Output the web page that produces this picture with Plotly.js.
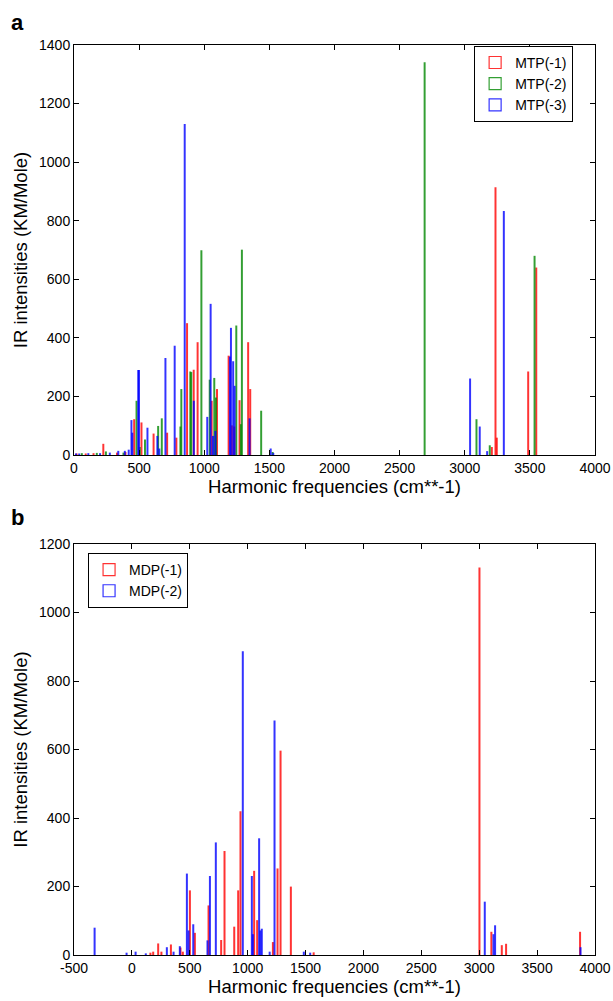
<!DOCTYPE html>
<html>
<head>
<meta charset="utf-8">
<script src="https://cdn.plot.ly/plotly-3.0.1.min.js"></script>
<style>html,body{margin:0;padding:0;background:#fff;}#chart{width:613px;height:1001px;}</style>
</head>
<body>
<div id="chart"></div>
<script>
// ---------- Panel a data ----------
const mtp1_freq = [20, 90, 150, 225, 330, 395, 462, 518, 611, 715, 786, 868, 919, 949, 1057, 1098, 1187, 1212, 1230, 1271, 1337, 1353, 3208, 3236, 3246, 3487, 3549];
const mtp1_int  = [3, 3, 4, 36, 6, 8, 120, 109, 71, 74, 57, 448, 289, 383, 183, 223, 337, 99, 95, 185, 383, 223, 25, 912, 57, 283, 638];

const mtp2_freq = [60, 175, 245, 380, 480, 505, 545, 646, 674, 817, 824, 893, 900, 978, 1042, 1077, 1090, 1246, 1281, 1289, 1437, 1525, 2692, 3090, 3192, 3536];
const mtp2_int  = [4, 5, 10, 6, 183, 25, 51, 97, 123, 95, 223, 283, 281, 697, 255, 261, 194, 440, 103, 699, 149, 8, 1339, 120, 31, 678];

const mtp3_freq = [15, 40, 110, 200, 275, 340, 390, 420, 441, 448, 493, 499, 564, 640, 655, 702, 773, 850, 920, 1023, 1049, 1067, 1085, 1197, 1205, 1222, 1233, 1348, 1510, 1530, 3041, 3115, 3172, 3300];
const mtp3_int  = [3, 3, 4, 4, 6, 12, 12, 16, 117, 74, 288, 288, 91, 63, 20, 329, 371, 1128, 183, 128, 514, 63, 80, 334, 432, 318, 234, 123, 20, 5, 259, 95, 11, 831];

// ---------- Panel b data ----------
const mdp1_freq = [160, 184, 227, 255, 337, 420, 440, 501, 544, 662, 771, 800, 884, 918, 938, 1056, 1082, 1218, 1258, 1284, 1373, 1570, 3002, 3105, 3195, 3232, 3871];
const mdp1_int  = [5, 8, 32, 8, 29, 20, 8, 187, 63, 143, 42, 302, 81, 187, 418, 244, 100, 36, 251, 595, 198, 6, 1130, 66, 27, 31, 66];

const mdp2_freq = [-322, -46, 32, 120, 302, 360, 414, 475, 490, 530, 653, 674, 725, 958, 1036, 1045, 1099, 1110, 1122, 1190, 1232, 1485, 1540, 3048, 3123, 3137, 3875];
const mdp2_int  = [78, 5, 8, 3, 21, 8, 24, 236, 70, 88, 41, 229, 327, 885, 229, 59, 339, 70, 75, 8, 683, 8, 5, 154, 59, 85, 21];

// ---------- Tick values ----------
const xTicksA = [0, 500, 1000, 1500, 2000, 2500, 3000, 3500, 4000];
const yTicksA = [0, 200, 400, 600, 800, 1000, 1200, 1400];
const xTicksB = [-500, 0, 500, 1000, 1500, 2000, 2500, 3000, 3500, 4000];
const yTicksB = [0, 200, 400, 600, 800, 1000, 1200];

function stick(x, y, name, color, xa, ya, leg, w) {
  return {
    type: 'bar', x: x, y: y, name: name, xaxis: xa, yaxis: ya, legend: leg,
    width: w,
    marker: {color: 'rgba(255,255,255,0)', line: {color: color, width: 1.2}},
    hoverinfo: 'x+y'
  };
}

const RED = 'rgba(255,0,0,0.8)';
const GREEN = 'rgba(0,135,0,0.8)';
const BLUE = 'rgba(0,0,255,0.8)';

const data = [
  stick(mtp1_freq, mtp1_int, 'MTP(-1)', RED, 'x', 'y', 'legend', 6),
  stick(mtp2_freq, mtp2_int, 'MTP(-2)', GREEN, 'x', 'y', 'legend', 6),
  stick(mtp3_freq, mtp3_int, 'MTP(-3)', BLUE, 'x', 'y', 'legend', 6),
  stick(mdp1_freq, mdp1_int, 'MDP(-1)', RED, 'x2', 'y2', 'legend2', 7),
  stick(mdp2_freq, mdp2_int, 'MDP(-2)', BLUE, 'x2', 'y2', 'legend2', 7)
];

const FONT = 'Liberation Sans, Arial, Helvetica, sans-serif';
const tickFont = {family: FONT, size: 14, color: '#000'};
const titleFont = {family: FONT, size: 18.5, color: '#000'};

function axis(range, ticks, title, domain, anchor, standoff) {
  return {
    range: range, tickvals: ticks, ticktext: ticks.map(String),
    domain: domain, anchor: anchor,
    ticks: 'inside', ticklen: 5, tickcolor: '#000', tickwidth: 1,
    showline: true, linecolor: '#000', linewidth: 1, mirror: 'ticks',
    showgrid: false, zeroline: false,
    tickfont: tickFont,
    title: {text: title, font: titleFont, standoff: standoff}
  };
}

const legendStyle = {
  font: {family: FONT, size: 14, color: '#000'},
  bgcolor: '#fff', bordercolor: '#000', borderwidth: 1,
  xanchor: 'left', yanchor: 'top', tracegroupgap: 0, itemwidth: 30
};

const layout = {
  width: 613, height: 1001,
  margin: {l: 74, r: 18, t: 45, b: 46},
  paper_bgcolor: '#fff', plot_bgcolor: '#fff',
  font: {family: FONT, color: '#000'},
  barmode: 'overlay', bargap: 0,
  showlegend: true,
  xaxis: axis([0, 4000], xTicksA, 'Harmonic frequencies (cm**-1)', [0, 1], 'y', 3),
  yaxis: axis([0, 1400], yTicksA, 'IR intensities (KM/Mole)', [0.5495, 1], 'x', 6),
  xaxis2: axis([-500, 4000], xTicksB, 'Harmonic frequencies (cm**-1)', [0, 1], 'y2', 3),
  yaxis2: axis([0, 1200], yTicksB, 'IR intensities (KM/Mole)', [0, 0.4516], 'x2', 6),
  legend: Object.assign({x: 0.768, y: 0.999}, legendStyle),
  legend2: Object.assign({x: 0.027, y: 0.4418}, legendStyle),
  annotations: [
    {text: '<b>a</b>', xref: 'paper', yref: 'paper', x: -0.1075, y: 1.0242, xanchor: 'center', yanchor: 'middle', showarrow: false, font: {family: FONT, size: 22, color: '#000'}},
    {text: '<b>b</b>', xref: 'paper', yref: 'paper', x: -0.1075, y: 0.4813, xanchor: 'center', yanchor: 'middle', showarrow: false, font: {family: FONT, size: 22, color: '#000'}}
  ]
};

Plotly.newPlot('chart', data, layout, {displayModeBar: false, staticPlot: true});
</script>
</body>
</html>
